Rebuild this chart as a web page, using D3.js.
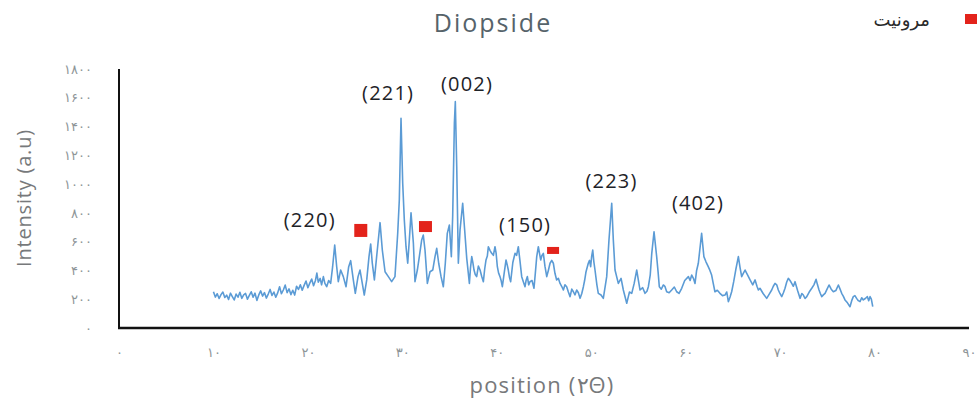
<!DOCTYPE html>
<html>
<head>
<meta charset="utf-8">
<script src="https://cdnjs.cloudflare.com/ajax/libs/d3/7.8.5/d3.min.js"></script>
<style>
  body { margin: 0; background: #fff; }
  svg { display: block; }
  .tick-label { font-family: "DejaVu Sans", sans-serif; font-size: 13px; fill: #8e9598; }
  .axis-title { font-family: "Open Sans", sans-serif; fill: #77797b; }
  .peak-label { font-family: "Open Sans", sans-serif; font-size: 20px; fill: #1e2328; letter-spacing: 1.2px; }
</style>
</head>
<body>
<div id="chart"></div>
<script>
// XRD pattern: [2theta, intensity]
const pattern = [
  [10.0,252],[10.2,215],[10.4,238],[10.6,205],[10.8,232],[11.0,250],[11.2,212],[11.4,228],[11.6,198],[11.8,242],
  [12.0,218],[12.2,195],[12.4,236],[12.6,214],[12.8,248],[13.0,206],[13.2,230],[13.4,240],[13.6,200],[13.8,226],
  [14.0,252],[14.2,214],[14.4,242],[14.6,192],[14.8,230],[15.0,258],[15.2,222],[15.4,246],[15.6,208],[15.8,236],
  [16.0,268],[16.2,226],[16.4,250],[16.6,214],[16.8,244],[17.0,287],[17.2,238],[17.4,264],[17.6,298],[17.8,246],
  [18.0,272],[18.2,232],[18.4,262],[18.6,229],[18.8,290],[19.0,268],[19.2,300],[19.4,262],[19.6,296],[19.8,326],
  [20.0,280],[20.2,312],[20.4,340],[20.6,294],[20.8,330],[20.95,382],[21.1,318],[21.3,345],[21.45,300],[21.64,357],
  [21.8,310],[21.99,287],[22.2,330],[22.41,310],[22.62,426],[22.84,577],[23.05,426],[23.22,322],[23.47,403],[23.75,357],
  [24.04,287],[24.32,426],[24.53,468],[24.81,334],[25.02,241],[25.31,357],[25.52,403],[25.76,310],[25.97,229],[26.23,334],
  [26.47,496],[26.65,584],[26.82,450],[27.04,334],[27.28,496],[27.64,732],[27.88,542],[28.17,391],[28.52,357],[28.87,322],
  [29.22,357],[29.51,658],[29.68,890],[29.86,1457],[30.04,1006],[30.21,751],[30.39,565],[30.57,450],[30.74,612],[30.92,800],
  [31.17,589],[31.34,322],[31.59,403],[31.8,496],[32.05,612],[32.22,646],[32.4,542],[32.65,310],[32.93,391],[33.22,403],
  [33.46,496],[33.64,554],[33.85,450],[34.1,357],[34.34,287],[34.55,450],[34.76,658],[34.98,716],[35.19,496],[35.33,774],
  [35.51,1423],[35.61,1573],[35.76,1121],[35.93,450],[36.11,681],[36.39,867],[36.6,681],[36.82,484],[37.1,310],[37.22,420],
  [37.35,496],[37.47,455],[37.59,403],[37.72,372],[37.87,357],[38.05,430],[38.23,403],[38.4,360],[38.58,322],[38.72,410],
  [38.86,473],[39.0,500],[39.11,565],[39.28,540],[39.46,519],[39.64,505],[39.81,565],[39.93,520],[40.06,426],[40.2,380],
  [40.34,357],[40.46,330],[40.59,287],[40.78,380],[40.98,473],[41.1,440],[41.22,403],[41.35,350],[41.47,322],[41.7,455],
  [41.93,519],[42.1,505],[42.28,565],[42.45,470],[42.64,357],[42.82,320],[42.99,287],[43.1,330],[43.24,357],[43.38,300],
  [43.52,322],[43.73,330],[43.94,276],[44.08,380],[44.23,496],[44.4,565],[44.52,520],[44.65,473],[44.79,505],[44.93,519],
  [45.1,430],[45.29,357],[45.46,400],[45.64,450],[45.82,470],[45.99,450],[46.16,380],[46.34,334],[46.52,345],[46.7,310],
  [46.87,290],[47.05,264],[47.22,300],[47.4,287],[47.58,250],[47.76,218],[47.94,270],[48.11,252],[48.28,230],[48.46,264],
  [48.64,245],[48.82,206],[49.0,240],[49.17,287],[49.3,330],[49.45,391],[49.57,420],[49.69,450],[49.82,470],[49.94,426],
  [50.05,500],[50.16,542],[50.28,460],[50.4,403],[50.6,300],[50.75,241],[51.04,229],[51.28,206],[51.64,357],[51.88,612],
  [52.17,867],[52.34,612],[52.52,403],[52.87,310],[53.16,345],[53.4,264],[53.76,172],[53.93,218],[54.05,250],[54.29,241],
  [54.55,310],[54.82,403],[55.0,330],[55.17,264],[55.45,280],[55.7,241],[55.9,255],[56.05,287],[56.25,370],[56.41,519],
  [56.65,669],[56.93,496],[57.08,390],[57.21,287],[57.42,270],[57.64,299],[57.8,290],[57.99,252],[58.25,245],[58.52,264],
  [58.8,285],[59.05,252],[59.3,240],[59.58,276],[59.9,330],[60.29,357],[60.47,330],[60.64,368],[60.82,345],[60.99,310],
  [61.16,400],[61.34,450],[61.69,658],[61.93,496],[62.15,460],[62.39,426],[62.57,400],[62.75,368],[62.92,310],[63.1,252],
  [63.35,262],[63.63,241],[63.9,225],[64.16,229],[64.35,250],[64.52,183],[64.7,215],[64.87,252],[65.08,320],[65.3,403],
  [65.58,496],[65.76,420],[65.93,357],[66.1,380],[66.29,403],[66.55,370],[66.82,334],[67.1,300],[67.35,334],[67.55,290],
  [67.7,264],[67.87,276],[68.2,240],[68.58,206],[68.85,235],[69.11,264],[69.28,290],[69.46,310],[69.64,300],[69.81,264],
  [69.98,240],[70.17,218],[70.35,245],[70.52,276],[70.7,320],[70.87,345],[71.05,330],[71.23,310],[71.4,290],[71.58,322],
  [71.85,260],[72.11,206],[72.3,240],[72.46,229],[72.64,205],[72.82,218],[73.08,250],[73.35,276],[73.58,300],[73.81,338],
  [73.96,300],[74.12,264],[74.26,240],[74.41,218],[74.58,230],[74.76,241],[74.97,270],[75.18,299],[75.41,270],[75.64,252],
  [75.9,260],[76.17,299],[76.35,270],[76.52,241],[76.7,220],[76.87,195],[77.13,175],[77.4,148],[77.58,190],[77.75,218],
  [77.92,225],[78.1,206],[78.28,190],[78.46,183],[78.64,210],[78.81,195],[79.02,205],[79.24,218],[79.38,190],[79.52,218],
  [79.66,200],[79.81,148]
];

// Miller index labels, placed at [2theta, intensity]
const peakLabels = [
  { text: '(220)', x: 20.2, y: 751 },
  { text: '(221)', x: 28.5, y: 1633 },
  { text: '(002)', x: 36.85, y: 1696 },
  { text: '(150)', x: 43.0, y: 716 },
  { text: '(223)', x: 52.15, y: 1022 },
  { text: '(402)', x: 61.3, y: 869 }
];

// merwinite markers
const markers = [
  { x: 25.6, y: 678 },
  { x: 32.45, y: 705 },
  { x: 45.96, y: 539 }
];
const markerSizes = [[13, 13], [13, 11], [12, 7]];

const xTicks = [0, 10, 20, 30, 40, 50, 60, 70, 80, 90];
const yTicks = [0, 200, 400, 600, 800, 1000, 1200, 1400, 1600, 1800];

const title = 'Diopside';
const legendText = 'مرونیت';
const xTitle = 'position (۲Θ)';
const yTitle = 'Intensity (a.u)';

const width = 978;
const height = 401;

const persian = (n) => String(n).replace(/[0-9]/g, (d) => '۰۱۲۳۴۵۶۷۸۹'[+d]);

const svg = d3.select('#chart')
  .append('svg')
  .attr('width', width)
  .attr('height', height);

const x = d3.scaleLinear().domain([0, 90]).range([119, 969]);
const y = d3.scaleLinear().domain([0, 1800]).range([328, 69]);

// title
svg.append('text')
   .attr('x', 493)
   .attr('y', 32)
   .attr('text-anchor', 'middle')
   .style('font-family', '"Open Sans", sans-serif')
   .style('font-size', '25px')
   .style('letter-spacing', '2px')
   .style('fill', '#56636a')
   .text(title);

// legend
svg.append('rect')
   .attr('x', 965)
   .attr('y', 14)
   .attr('width', 12)
   .attr('height', 10)
   .style('fill', '#e3231b');
svg.append('text')
   .attr('x', 930)
   .attr('y', 26)
   .attr('text-anchor', 'end')
   .style('font-family', '"DejaVu Sans", sans-serif')
   .style('font-size', '18px')
   .style('fill', '#2a2a2a')
   .text(legendText);

// axes: no tick marks, persian labels
const yAxis = d3.axisLeft(y)
  .tickValues(yTicks)
  .tickSize(0)
  .tickPadding(27)
  .tickFormat(persian);
svg.append('g')
   .attr('transform', `translate(${x(0)}, 0)`)
   .call(yAxis)
   .call((g) => g.select('.domain').remove())
   .selectAll('text')
   .attr('class', 'tick-label');

const xAxis = d3.axisBottom(x)
  .tickValues(xTicks)
  .tickSize(0)
  .tickPadding(20)
  .tickFormat(persian);
svg.append('g')
   .attr('transform', `translate(0, ${y(0)})`)
   .call(xAxis)
   .call((g) => g.select('.domain').remove())
   .selectAll('text')
   .attr('class', 'tick-label');

// the pattern
const line = d3.line()
  .x((d) => x(d[0]))
  .y((d) => y(d[1]));
svg.append('path')
   .datum(pattern)
   .attr('d', line)
   .style('fill', 'none')
   .style('stroke', '#5b9bd5')
   .style('stroke-width', 1.6)
   .style('stroke-linejoin', 'round');

// axis lines
svg.append('path')
   .attr('d', `M${x(0)},${y(1800)}V${y(0)}`)
   .style('stroke', '#111')
   .style('stroke-width', 2);
svg.append('path')
   .attr('d', `M${x(0) - 1},${y(0)}H${x(90)}`)
   .style('stroke', '#111')
   .style('stroke-width', 2.5);

// markers
svg.selectAll('.marker')
   .data(markers)
   .enter()
   .append('rect')
   .attr('class', 'marker')
   .attr('x', (d, i) => x(d.x) - markerSizes[i][0] / 2)
   .attr('y', (d, i) => y(d.y) - markerSizes[i][1] / 2)
   .attr('width', (d, i) => markerSizes[i][0])
   .attr('height', (d, i) => markerSizes[i][1])
   .style('fill', '#e3231b');

// peak labels
svg.selectAll('.peak-label')
   .data(peakLabels)
   .enter()
   .append('text')
   .attr('class', 'peak-label')
   .attr('x', (d) => x(d.x))
   .attr('y', (d) => y(d.y))
   .attr('dy', '0.35em')
   .attr('text-anchor', 'middle')
   .text((d) => d.text);

// axis titles
svg.append('text')
   .attr('class', 'axis-title')
   .attr('transform', `translate(31, 198) rotate(-90)`)
   .attr('text-anchor', 'middle')
   .style('font-size', '20px')
   .style('letter-spacing', '0.8px')
   .text(yTitle);
svg.append('text')
   .attr('class', 'axis-title')
   .attr('x', 542)
   .attr('y', 393)
   .attr('text-anchor', 'middle')
   .style('font-size', '22px')
   .style('letter-spacing', '1.2px')
   .text(xTitle);
</script>
</body>
</html>
